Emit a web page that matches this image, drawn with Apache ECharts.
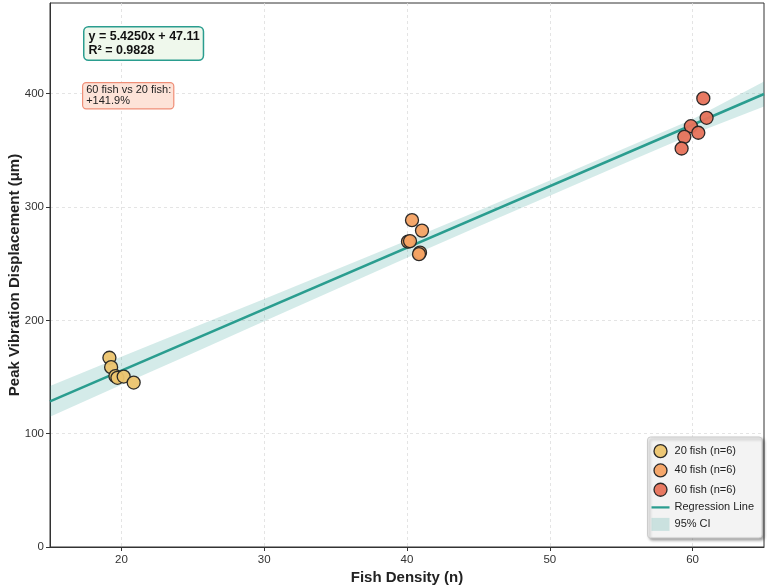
<!DOCTYPE html>
<html>
<head>
<meta charset="utf-8">
<script src="https://cdn.jsdelivr.net/npm/echarts@6/dist/echarts.min.js"></script>
<style>
html,body{margin:0;padding:0;background:#fff;}
#chart{width:767px;height:588px;}
</style>
</head>
<body>
<div id="chart"></div>
<script>
// ---- data ----
const fish20X = [19.16, 19.28, 19.58, 19.72, 20.16, 20.86];
const fish20Y = [167.0, 158.7, 150.8, 149.3, 150.4, 145.1];
const fish40X = [40.35, 41.05, 40.07, 40.21, 40.91, 40.84];
const fish40Y = [288.4, 279.2, 269.4, 269.9, 259.7, 258.4];
const fish60X = [60.75, 60.98, 59.88, 60.40, 59.42, 59.23];
const fish60Y = [395.8, 378.7, 371.3, 365.5, 361.9, 351.6];
const regLineX = [15, 65];
const regLineY = [128.5, 399.7];
const ciX     = [15, 20, 25, 30, 35, 40, 45, 50, 55, 60, 65];
const ciLower = [115.0, 143.2, 171.0, 199.3, 227.2, 255.2, 282.7, 310.0, 337.2, 364.1, 388.7];
const ciUpper = [142.0, 167.8, 193.5, 218.9, 244.6, 270.4, 296.7, 323.4, 350.6, 377.5, 410.7];
const xTicks = [20, 30, 40, 50, 60];
const yTicks = [0, 100, 200, 300, 400];
const seriesNames = ['20 fish (n=6)', '40 fish (n=6)', '60 fish (n=6)', 'Regression Line', '95% CI'];
const eqText = ['y = 5.4250x + 47.11', 'R² = 0.9828'];
const cmpText = ['60 fish vs 20 fish:', '+141.9%'];

const C20 = '#ECC46E', C40 = '#F4A263', C60 = '#E7725A', TEAL = '#2A9D8F', CIFILL = 'rgba(42,157,143,0.2)';
const FONT = '"Liberation Sans", Arial, sans-serif';

function pairs(xs, ys){ return xs.map((x,i)=>[x, ys[i]]); }

const chart = echarts.init(document.getElementById('chart'), null, {renderer:'canvas'});

const scatterStyle = c => ({color: c, borderColor: '#222', borderWidth: 1.3, opacity: 0.95});

const option = {
  backgroundColor: '#fff',
  animation: false,
  textStyle: {fontFamily: FONT},
  grid: {left: 50, right: 3, top: 3, bottom: 41, outerBoundsMode: 'none', containLabel: false,
         show: true, borderColor: '#333', borderWidth: 1, backgroundColor: '#fff'},
  xAxis: {
    type: 'value', min: 15, max: 65,
    name: 'Fish Density (n)', nameLocation: 'middle', nameGap: 23, nameMoveOverlap: false,
    nameTextStyle: {fontSize: 15, fontWeight: 'bold', color: '#222', fontFamily: FONT},
    axisLine: {show: true, onZero: false, lineStyle: {color: '#333'}},
    axisTick: {show: true, length: 4, lineStyle: {color: '#333'}, customValues: xTicks},
    axisLabel: {fontSize: 11.5, color: '#333', margin: 7, customValues: xTicks},
    splitLine: {show: true, lineStyle: {color: '#ddd', type: [3, 3], width: 0.8}}
  },
  yAxis: {
    type: 'value', min: 0, max: 480,
    name: 'Peak Vibration Displacement (μm)', nameLocation: 'middle', nameGap: 28, nameMoveOverlap: false,
    nameTextStyle: {fontSize: 15, fontWeight: 'bold', color: '#222', fontFamily: FONT},
    axisLine: {show: true, onZero: false, lineStyle: {color: '#333'}},
    axisTick: {show: true, length: 4, lineStyle: {color: '#333'}, customValues: yTicks},
    axisLabel: {fontSize: 11.5, color: '#333', margin: 6, customValues: yTicks},
    splitLine: {show: true, lineStyle: {color: '#ddd', type: [3, 3], width: 0.8}}
  },
  legend: {
    right: 5, top: 437, orient: 'vertical',
    itemWidth: 18, itemHeight: 13, itemGap: 5,
    padding: [7, 8, 7, 4],
    backgroundColor: '#f3f3f3', borderColor: '#ccc', borderWidth: 1, borderRadius: 3,
    shadowColor: 'rgba(0,0,0,0.35)', shadowBlur: 3, shadowOffsetX: 2, shadowOffsetY: 2,
    textStyle: {fontSize: 11, color: '#222', fontFamily: FONT},
    data: [
      {name: seriesNames[0], icon: 'circle', itemStyle: scatterStyle(C20)},
      {name: seriesNames[1], icon: 'circle', itemStyle: scatterStyle(C40)},
      {name: seriesNames[2], icon: 'circle', itemStyle: scatterStyle(C60)},
      {name: seriesNames[3], icon: 'path://M0,0 L24,0 L24,3 L0,3 Z', itemStyle: {color: TEAL, borderWidth: 0}},
      {name: seriesNames[4], icon: 'rect', itemStyle: {color: CIFILL, borderWidth: 0}}
    ]
  },
  series: [
    {
      name: seriesNames[4], type: 'custom', z: 1, silent: true,
      itemStyle: {color: CIFILL},
      data: [0],
      renderItem: function(params, api){
        const pts = [];
        for (let i = 0; i < ciX.length; i++) pts.push(api.coord([ciX[i], ciUpper[i]]));
        for (let i = ciX.length - 1; i >= 0; i--) pts.push(api.coord([ciX[i], ciLower[i]]));
        return {type: 'polygon', shape: {points: pts}, style: {fill: CIFILL},
                clipPath: {type:'rect', shape: {x: params.coordSys.x, y: params.coordSys.y, width: params.coordSys.width, height: params.coordSys.height}}};
      }
    },
    {
      name: seriesNames[3], type: 'line', z: 2, symbol: 'none', silent: true,
      data: pairs(regLineX, regLineY),
      lineStyle: {color: TEAL, width: 2.5},
      itemStyle: {color: TEAL}
    },
    {name: seriesNames[0], type: 'scatter', z: 3, symbolSize: 13, data: pairs(fish20X, fish20Y), itemStyle: scatterStyle(C20)},
    {name: seriesNames[1], type: 'scatter', z: 3, symbolSize: 13, data: pairs(fish40X, fish40Y), itemStyle: scatterStyle(C40)},
    {name: seriesNames[2], type: 'scatter', z: 3, symbolSize: 13, data: pairs(fish60X, fish60Y), itemStyle: scatterStyle(C60)}
  ],
  graphic: [
    {
      type: 'text', left: 83, top: 26, z: 100,
      style: {
        text: eqText.join('\n'), font: 'bold 12.5px ' + FONT, fill: '#111', lineHeight: 14,
        backgroundColor: '#eff8ec', borderColor: TEAL, borderWidth: 1.5, borderRadius: 4,
        padding: [2, 3, 2, 4]
      }
    },
    {
      type: 'text', left: 82, top: 82, z: 100,
      style: {
        text: cmpText.join('\n'), font: '11px ' + FONT, fill: '#222', lineHeight: 11.5,
        backgroundColor: '#fde3d8', borderColor: '#ef8f78', borderWidth: 1.2, borderRadius: 3,
        padding: [1, 2, 1, 3]
      }
    }
  ]
};
chart.setOption(option);
</script>
</body>
</html>
